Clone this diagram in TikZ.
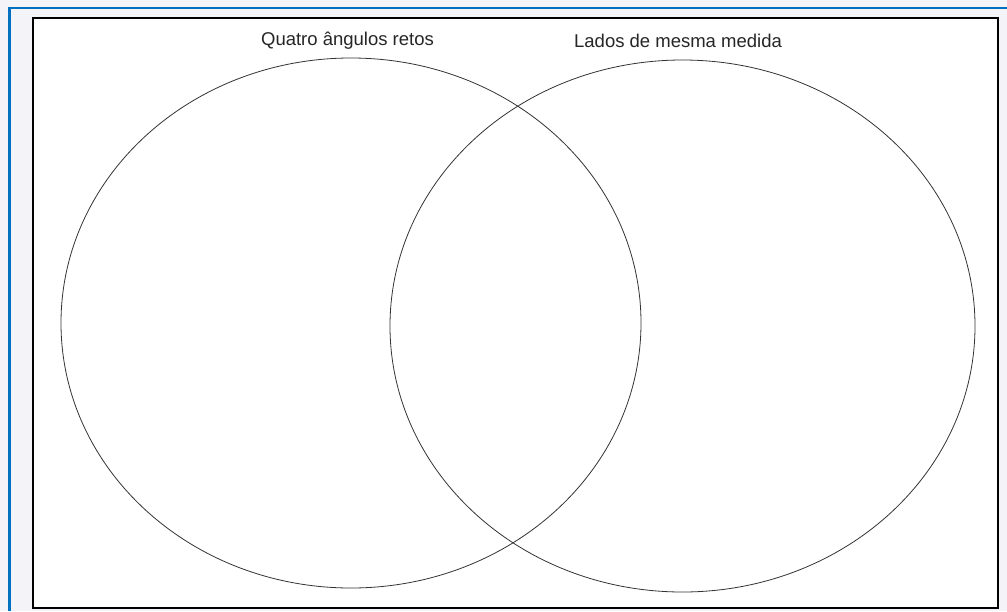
\documentclass[tikz,border=0pt]{standalone}
\usepackage{fontspec}
\setmainfont{Liberation Sans}
\usepackage{tikz}
\usetikzlibrary{positioning}
\definecolor{pagebg}{HTML}{F4F4F8}
\definecolor{edgeblue}{HTML}{0070C0}
\definecolor{vennline}{HTML}{333333}

\begin{document}
\begin{tikzpicture}[x=1pt, y=-1pt,
    setline/.style={draw=vennline, line width=0.8pt},
    setlabel/.style={font=\fontsize{18.5}{20}\selectfont, text=black!85, inner sep=0pt}]
    % page and frame
    \fill[pagebg] (0,0) rectangle (1007,611);
    \useasboundingbox (0,0) rectangle (1007,611);
    \draw[edgeblue, line width=2.6pt] (9.5,611) -- (9.5,8) -- (1007,8);
    \draw[black, line width=2pt, fill=white] (33,18) rectangle (998,608);

    % the two sets
    \draw[setline] (351,323) ellipse [x radius=290, y radius=265];
    \draw[setline] (682.5,326) ellipse [x radius=292.5, y radius=266];

    % labels
    \node[setlabel] (angles) at (347.5,41) {Quatro ângulos retos};
    \node[setlabel] (sides) at (678,41) {Lados de mesma medida};
\end{tikzpicture}
\end{document}
